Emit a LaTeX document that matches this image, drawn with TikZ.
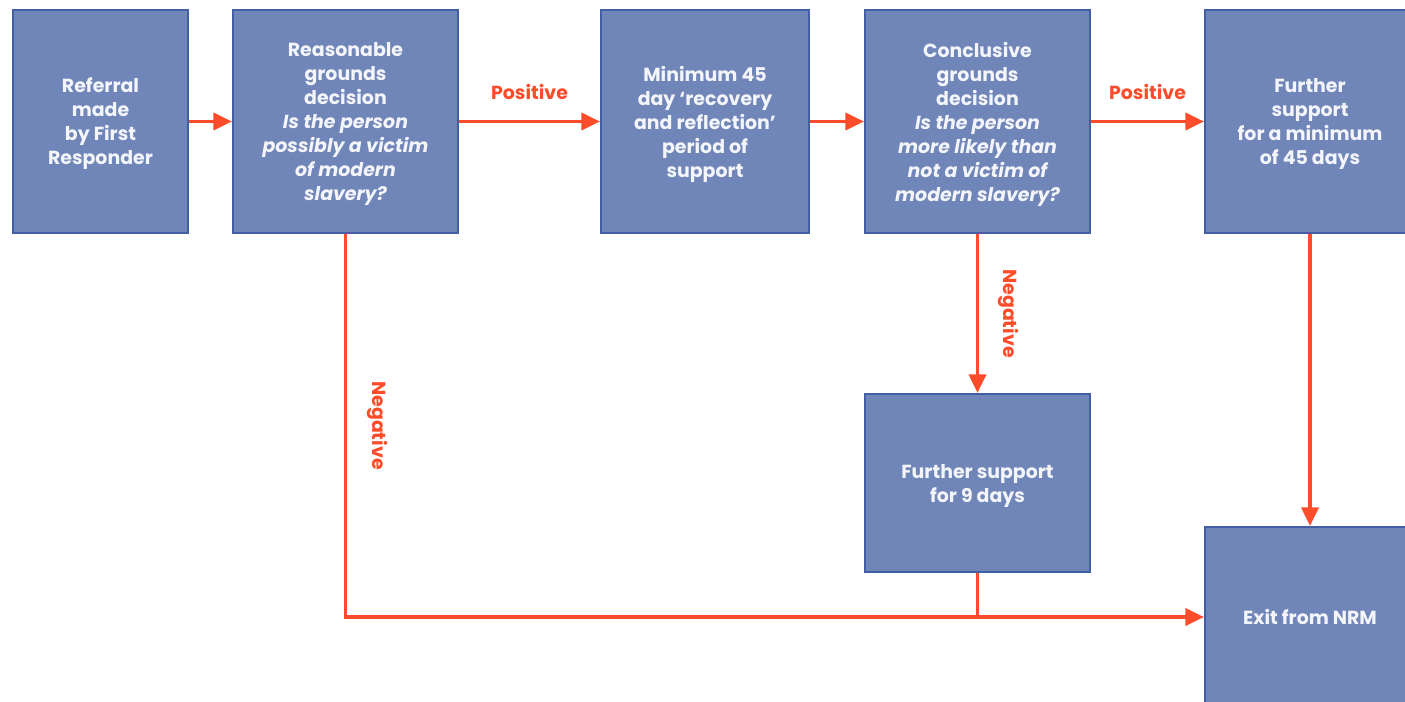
\documentclass[tikz,border=0pt]{standalone}
\usepackage{fontspec}
\setmainfont{Poppins}
\usetikzlibrary{arrows.meta,calc}
\definecolor{boxfill}{RGB}{112,134,185}
\definecolor{boxline}{RGB}{66,94,165}
\definecolor{arrowc}{RGB}{252,76,42}
\definecolor{txt}{RGB}{244,245,250}
\tikzset{
  box/.style={draw=boxline, fill=boxfill, line width=1.6pt, align=center,
    text=txt, font=\fontsize{14.2}{18}\selectfont\bfseries, inner sep=0pt, text depth=0pt},
  conn/.style={draw=arrowc, line width=2.3pt},
  arr/.style={conn, -{Triangle[length=14pt,width=13pt]}},
  lbl/.style={text=arrowc, font=\fontsize{14.2}{18}\selectfont\bfseries, inner sep=0pt}
}
\begin{document}
\begin{tikzpicture}[x=0.75pt,y=-0.75pt]
\useasboundingbox (0,0) rectangle (1405,702);
\clip (0,0) rectangle (1405,702);
\node[box, minimum width=131.25pt, minimum height=167.25pt] (b1) at (100.5,121.5)
  {Referral\\made\\by First\\Responder};
\node[box, minimum width=168.75pt, minimum height=167.25pt] (b2) at (345.5,121.5)
  {Reasonable\\grounds\\decision\\\itshape Is the person\\\itshape possibly a victim\\\itshape of modern\\\itshape slavery?};
\node[box, minimum width=156pt, minimum height=167.25pt] (b3) at (705,121.5)
  {Minimum 45\\day ‘recovery\\and reflection’\\period of\\support};
\node[box, minimum width=168.75pt, minimum height=167.25pt] (b4) at (977.5,121.5)
  {Conclusive\\grounds\\decision\\\itshape Is the person\\\itshape more likely than\\\itshape not a victim of\\\itshape modern slavery?};
\node[box, minimum width=157.5pt, minimum height=167.25pt] (b5) at (1310,121.5)
  {Further\\support\\for a minimum\\of 45 days};
\node[box, minimum width=168.75pt, minimum height=133.5pt] (b6) at (977.5,483)
  {Further support\\for 9 days};
\node[box, minimum width=157.5pt, minimum height=135pt] (b7) at (1310,617)
  {Exit from NRM};
\coordinate (j) at (b2.south |- b7.west);
\draw[arr] (b1.east) -- (b2.west);
\draw[arr] (b2.east) -- (b3.west) node[lbl, midway, yshift=22.5pt] {Positive};
\draw[arr] (b3.east) -- (b4.west);
\draw[arr] (b4.east) -- (b5.west) node[lbl, midway, yshift=22.5pt] {Positive};
\draw[arr] (b4.south) -- (b6.north) node[lbl, midway, xshift=23.5pt, rotate=-90] {Negative};
\draw[arr] (b5.south) -- (b7.north);
\draw[arr] (b2.south) -- (j) node[lbl, pos=0.5, xshift=24pt, rotate=-90] {Negative} -- (b7.west);
\draw[conn] (b6.south) -- (b6.south |- b7.west);
\end{tikzpicture}
\end{document}
